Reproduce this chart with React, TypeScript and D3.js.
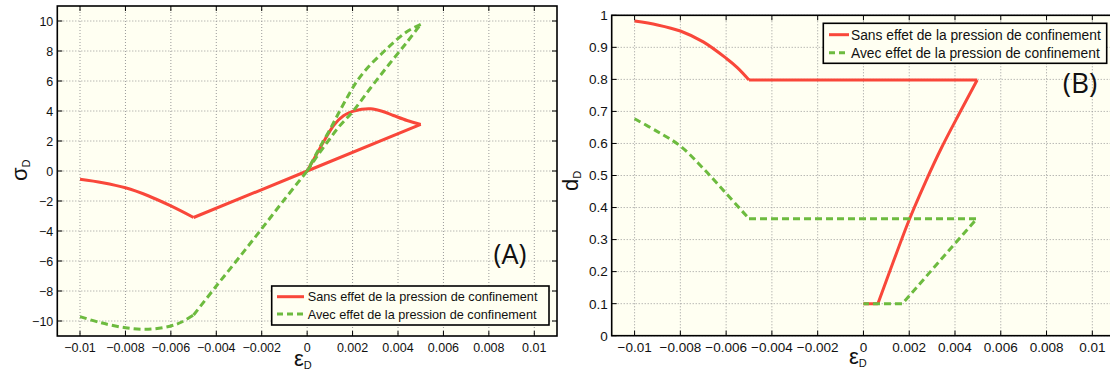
import React from 'react'
import * as d3 from 'd3'

type Pt = [number, number]

// Ticks shared by both panels
const epsTicks = [-0.01, -0.008, -0.006, -0.004, -0.002, 0, 0.002, 0.004, 0.006, 0.008, 0.01]
const sigmaTicks = [-10, -8, -6, -4, -2, 0, 2, 4, 6, 8, 10]
const damageTicks = [0, 0.1, 0.2, 0.3, 0.4, 0.5, 0.6, 0.7, 0.8, 0.9, 1]

const seriesNames = [
  'Sans effet de la pression de confinement',
  'Avec effet de la pression de confinement',
]

// (A) sigma_D vs eps_D, sans effet (red)
const sigmaSansSoft: Pt[] = [
  [-0.01, -0.55], [-0.009, -0.78], [-0.008, -1.12], [-0.007, -1.65],
  [-0.006, -2.33], [-0.005, -3.1],
]
const sigmaSansLine: Pt[] = [[-0.005, -3.1], [0, 0], [0.005, 3.11]]
const sigmaSansLoop: Pt[] = [
  [0.005, 3.11], [0.0044, 3.37], [0.0038, 3.7], [0.0033, 3.98], [0.0028, 4.15],
  [0.0024, 4.12], [0.002, 3.97], [0.0016, 3.68], [0.0012, 3.1], [0.0008, 2.15],
  [0.0004, 1.07], [0, 0],
]

// (A) sigma_D vs eps_D, avec effet (green)
const sigmaAvecTail: Pt[] = [
  [-0.01, -9.71], [-0.0091, -10.11], [-0.008, -10.45], [-0.007, -10.55],
  [-0.006, -10.33], [-0.0055, -10.05], [-0.005, -9.6],
]
const sigmaAvecRise: Pt[] = [
  [-0.005, -9.6], [-0.004, -7.67], [-0.003, -5.78], [-0.002, -3.85], [-0.001, -1.9], [0, 0],
]
const sigmaAvecLoad: Pt[] = [
  [0, 0], [0.0004, 0.9], [0.0009, 1.95], [0.0014, 2.95], [0.002, 3.95],
  [0.0028, 5.55], [0.0036, 7.1], [0.0044, 8.6], [0.005, 9.78],
]
const sigmaAvecUnload: Pt[] = [
  [0.005, 9.78], [0.0044, 9.3], [0.0038, 8.56], [0.0033, 7.85], [0.0027, 6.95],
  [0.0022, 6.0], [0.0018, 5.0], [0.0014, 3.9], [0.001, 2.75], [0.0006, 1.7],
  [0.0003, 0.85], [0, 0],
]

// (B) d_D vs eps_D, sans effet (red)
const damageSansSoft: Pt[] = [
  [-0.01, 0.982], [-0.009, 0.97], [-0.008, 0.951], [-0.007, 0.917],
  [-0.006, 0.866], [-0.0055, 0.836], [-0.005, 0.798],
]
const damageSansFlat: Pt[] = [[-0.005, 0.798], [0.00497, 0.798]]
const damageSansDrop: Pt[] = [
  [0.00497, 0.798], [0.0042, 0.695], [0.0034, 0.585], [0.0027, 0.478],
  [0.002, 0.362], [0.0013, 0.23], [0.00063, 0.1],
]
const damageSansBase: Pt[] = [[0.00063, 0.1], [0, 0.1]]

// (B) d_D vs eps_D, avec effet (green)
const damageAvecSoft: Pt[] = [
  [-0.01, 0.677], [-0.009, 0.637], [-0.008, 0.592], [-0.007, 0.522], [-0.006, 0.444], [-0.005, 0.365],
]
const damageAvecRest: Pt[] = [[-0.005, 0.365], [0.00495, 0.365], [0.0017, 0.1], [0, 0.1]]

const RED = '#f9473a'
const GREEN = '#6dbb3f'
const PLOT_BG = '#fffff2'
const GRID = '#9a9a9a'
const FONT = '"Liberation Sans", Arial, Helvetica, sans-serif'

interface Segment { pts: Pt[]; smooth: boolean }
interface Series { color: string; dashed: boolean; segments: Segment[] }

interface Box { left: number; right: number; top: number; bottom: number }

interface LegendSpec {
  x: number; y: number; w: number; h: number
  lineX1: number; lineX2: number; textX: number; rows: number[]; fontSize: number
}

interface PanelProps {
  id: string
  box: Box
  yDomain: [number, number]
  yTicks: number[]
  tickFont: number
  series: Series[]
  legend: LegendSpec
  tag: { text: string; x: number; y: number; size: number }
  yLabel: { main: string; x: number; y: number }
  xLabel: { x: number; y: number }
}

const fmt = d3.format('~g')

function Panel({ id, box, yDomain, yTicks, tickFont, series, legend, tag, yLabel, xLabel }: PanelProps) {
  const x = d3.scaleLinear().domain([-0.011, 0.011]).range([box.left, box.right])
  const y = d3.scaleLinear().domain(yDomain).range([box.bottom, box.top])
  const tick = 5

  const smoothLine = d3.line<Pt>().x(d => x(d[0])).y(d => y(d[1])).curve(d3.curveCatmullRom.alpha(0.5))
  const straightLine = d3.line<Pt>().x(d => x(d[0])).y(d => y(d[1]))

  return (
    <g>
      <defs>
        <clipPath id={`clip-${id}`}>
          <rect x={box.left} y={box.top} width={box.right - box.left} height={box.bottom - box.top} />
        </clipPath>
      </defs>
      <rect x={box.left} y={box.top} width={box.right - box.left} height={box.bottom - box.top} fill={PLOT_BG} />

      {/* dotted grid */}
      {epsTicks.map(t => (
        <line key={`gx${t}`} x1={x(t)} x2={x(t)} y1={box.top} y2={box.bottom}
          stroke={GRID} strokeWidth={1} strokeDasharray="1,2" />
      ))}
      {yTicks.map(t => (
        <line key={`gy${t}`} x1={box.left} x2={box.right} y1={y(t)} y2={y(t)}
          stroke={GRID} strokeWidth={1} strokeDasharray="1,2" />
      ))}

      {/* curves */}
      <g clipPath={`url(#clip-${id})`}>
        {series.map((s, i) =>
          s.segments.map((seg, j) => (
            <path key={`s${i}-${j}`} d={(seg.smooth ? smoothLine : straightLine)(seg.pts) || ''}
              fill="none" stroke={s.color} strokeWidth={3}
              strokeDasharray={s.dashed ? '7,4' : undefined}
              strokeLinejoin="round" />
          ))
        )}
      </g>

      {/* ticks, inside, on all four sides */}
      {epsTicks.map(t => (
        <g key={`tx${t}`}>
          <line x1={x(t)} x2={x(t)} y1={box.bottom} y2={box.bottom - tick} stroke="#000" />
          <line x1={x(t)} x2={x(t)} y1={box.top} y2={box.top + tick} stroke="#000" />
          <text x={x(t)} y={box.bottom + 16} textAnchor="middle" fontSize={tickFont}
            fontFamily={FONT} fill="#111">{fmt(t)}</text>
        </g>
      ))}
      {yTicks.map(t => (
        <g key={`ty${t}`}>
          <line x1={box.left} x2={box.left + tick} y1={y(t)} y2={y(t)} stroke="#000" />
          <line x1={box.right} x2={box.right - tick} y1={y(t)} y2={y(t)} stroke="#000" />
          <text x={box.left - 4} y={y(t) + tickFont * 0.36} textAnchor="end" fontSize={tickFont}
            fontFamily={FONT} fill="#111">{fmt(t)}</text>
        </g>
      ))}

      <rect x={box.left} y={box.top} width={box.right - box.left} height={box.bottom - box.top}
        fill="none" stroke="#000" strokeWidth={1.6} />

      {/* legend */}
      <g transform={`translate(${legend.x},${legend.y})`}>
        <rect width={legend.w} height={legend.h} fill={PLOT_BG} stroke="#000" strokeWidth={1.6} />
        {series.map((s, i) => (
          <g key={`lg${i}`}>
            <line x1={legend.lineX1} x2={legend.lineX2} y1={legend.rows[i]} y2={legend.rows[i]}
              stroke={s.color} strokeWidth={3} strokeDasharray={s.dashed ? '6,4' : undefined} />
            <text x={legend.textX} y={legend.rows[i] + legend.fontSize * 0.36} fontSize={legend.fontSize}
              fontFamily={FONT} fill="#111">{seriesNames[i]}</text>
          </g>
        ))}
      </g>

      <text x={tag.x} y={tag.y} textAnchor="middle" fontSize={tag.size}
        fontFamily='"Open Sans", "Noto Sans", sans-serif' fill="#111">{tag.text}</text>

      {/* axis labels */}
      <text x={xLabel.x} y={xLabel.y} fontFamily={FONT} fontSize={22} fill="#111">
        ε<tspan fontSize={11} dy={3}>D</tspan>
      </text>
      <text transform={`translate(${yLabel.x},${yLabel.y}) rotate(-90)`} fontFamily={FONT}
        fontSize={22} fill="#111">
        {yLabel.main}<tspan fontSize={11} dy={3}>D</tspan>
      </text>
    </g>
  )
}

export default function App() {
  const seriesA: Series[] = [
    {
      color: RED, dashed: false, segments: [
        { pts: sigmaSansSoft, smooth: true },
        { pts: sigmaSansLine, smooth: false },
        { pts: sigmaSansLoop, smooth: true },
      ],
    },
    {
      color: GREEN, dashed: true, segments: [
        { pts: sigmaAvecTail, smooth: true },
        { pts: sigmaAvecRise, smooth: true },
        { pts: sigmaAvecLoad, smooth: true },
        { pts: sigmaAvecUnload, smooth: true },
      ],
    },
  ]
  const seriesB: Series[] = [
    {
      color: RED, dashed: false, segments: [
        { pts: damageSansSoft, smooth: true },
        { pts: damageSansFlat, smooth: false },
        { pts: damageSansDrop, smooth: true },
        { pts: damageSansBase, smooth: false },
      ],
    },
    {
      color: GREEN, dashed: true, segments: [
        { pts: damageAvecSoft, smooth: true },
        { pts: damageAvecRest, smooth: false },
      ],
    },
  ]

  return (
    <svg width={1110} height={372} style={{ position: 'absolute', left: 0, top: 0, background: '#fff' }}>
      <Panel
        id="a"
        box={{ left: 57.3, right: 557, top: 6, bottom: 336 }}
        yDomain={[-11, 11]}
        yTicks={sigmaTicks}
        tickFont={12.5}
        series={seriesA}
        legend={{ x: 271.7, y: 286, w: 277.3, h: 39, lineX1: 5.3, lineX2: 32.3, textX: 36, rows: [10.7, 28], fontSize: 12.7 }}
        tag={{ text: '(A)', x: 510, y: 264, size: 27 }}
        yLabel={{ main: 'σ', x: 27, y: 181 }}
        xLabel={{ x: 294, y: 366 }}
      />
      <Panel
        id="b"
        box={{ left: 611.7, right: 1115.2, top: 15.3, bottom: 335.7 }}
        yDomain={[0, 1]}
        yTicks={damageTicks}
        tickFont={13.5}
        series={seriesB}
        legend={{ x: 823.3, y: 23.3, w: 283.4, h: 40, lineX1: 5.7, lineX2: 25.7, textX: 27.7, rows: [11.4, 29.4], fontSize: 13.8 }}
        tag={{ text: '(B)', x: 1080, y: 93, size: 28 }}
        yLabel={{ main: 'd', x: 578, y: 191 }}
        xLabel={{ x: 849, y: 364 }}
      />
    </svg>
  )
}
